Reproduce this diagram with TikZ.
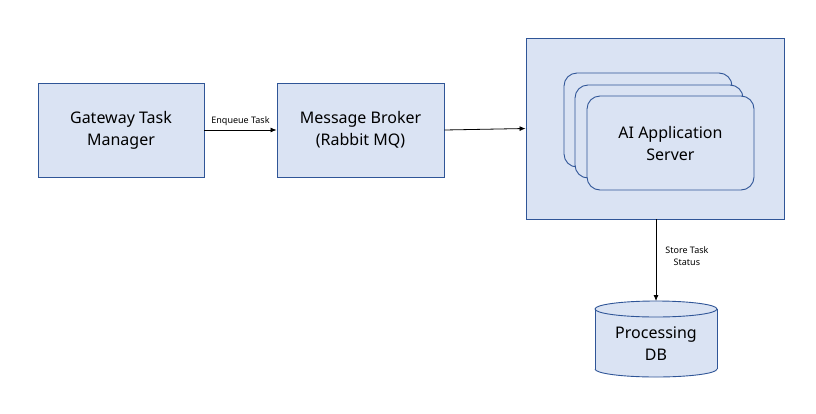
\documentclass[tikz,border=0pt]{standalone}
\usepackage{fontspec}
\setmainfont{Noto Sans}
\usetikzlibrary{arrows.meta}
\definecolor{boxfill}{HTML}{DAE3F3}
\definecolor{boxline}{HTML}{2F5597}
\tikzset{
  blk/.style={draw=boxline, fill=boxfill, line width=0.9pt, align=center, font=\fontsize{16}{22}\selectfont, inner sep=0pt},
  srv/.style={draw=boxline, fill=boxfill, line width=0.9pt, rounded corners=13pt},
  conn/.style={-{Latex[length=6pt,width=5pt]}, line width=0.8pt},
  lbl/.style={font=\fontsize{9}{12}\selectfont, align=center, inner sep=1pt}
}
\begin{document}
\begin{tikzpicture}[x=1pt,y=-1pt]
\useasboundingbox (0,0) rectangle (816,413);
\node[blk, minimum width=166pt, minimum height=94pt] (gw) at (121,130) {Gateway Task\\Manager};
\node[blk, minimum width=167pt, minimum height=94pt] (mb) at (360.5,130) {Message Broker\\(Rabbit MQ)};
\node[blk, minimum width=258pt, minimum height=181pt] (cont) at (655,128.5) {};
\draw[srv] (564,73) rectangle (732,167);
\draw[srv] (575,85) rectangle (743,178);
\node[srv, minimum width=167pt, minimum height=94pt, align=center, font=\fontsize{16}{22}\selectfont, inner sep=0pt] (ai) at (670.5,143) {AI Application\\Server};
% cylinder
\coordinate (dbtop) at (656,301);
\fill[boxfill] (595,309) rectangle (717,369);
\fill[boxfill] (656,369) ellipse[x radius=61, y radius=8];
\draw[boxline, line width=0.9pt] (595,309) -- (595,369);
\draw[boxline, line width=0.9pt] (717,309) -- (717,369);
\draw[boxline, line width=0.9pt] (595,369) arc[start angle=180, end angle=0, x radius=61, y radius=8];
\draw[boxline, fill=boxfill, line width=0.9pt] (656,309) ellipse[x radius=61, y radius=8];
\node[align=center, font=\fontsize{16}{22}\selectfont, inner sep=0pt] (db) at (656,344) {Processing\\DB};
\draw[conn] (gw.east) -- node[lbl, above=3pt] {Enqueue Task} (mb.west);
\draw[conn] (mb.east) -- (cont.west);
\draw[conn] (cont.south -| dbtop) -- node[lbl, right=8pt, pos=0.45] {Store Task\\Status} (dbtop);
\end{tikzpicture}
\end{document}
